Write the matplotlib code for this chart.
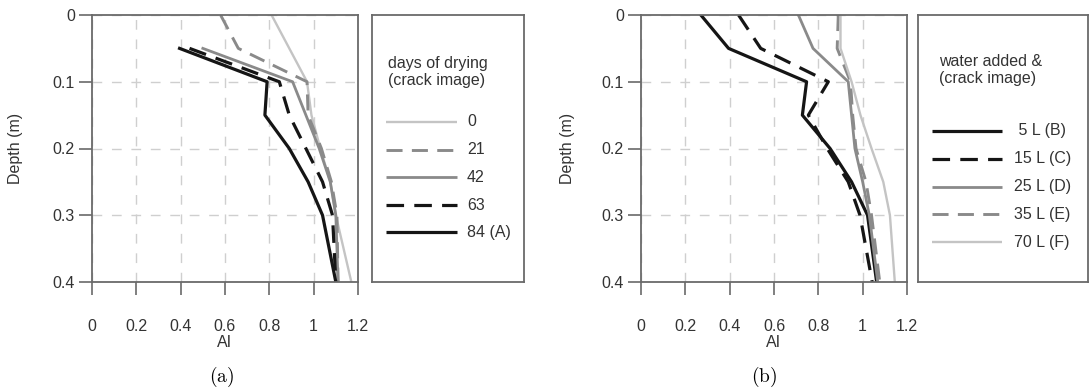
import numpy as np
import matplotlib
matplotlib.use("Agg")
import matplotlib.pyplot as plt

plt.rcParams['font.family'] = ['Liberation Sans', 'DejaVu Sans']
plt.rcParams['mathtext.fontset'] = 'cm'

# depth profiles of AI, panel (a): days of drying
depth_full = [0, 0.05, 0.1, 0.15, 0.2, 0.25, 0.3, 0.4]
depth_crack = [0.05, 0.1, 0.15, 0.2, 0.25, 0.3, 0.4]
depth_d0 = [0, 0.1, 0.15, 0.2, 0.25, 0.3, 0.4]

ai_d0 = [0.81, 0.97, 0.99, 1.03, 1.075, 1.10, 1.17]
ai_d21 = [0.58, 0.66, 0.97, 0.975, 1.035, 1.08, 1.105, 1.11]
ai_d42 = [0.50, 0.905, 0.965, 1.025, 1.075, 1.10, 1.11]
ai_d63 = [0.44, 0.845, 0.89, 0.965, 1.04, 1.085, 1.10]
ai_d84 = [0.395, 0.79, 0.78, 0.89, 0.975, 1.04, 1.10]

# panel (b): water added
ai_5L = [0.27, 0.395, 0.747, 0.728, 0.853, 0.95, 1.022, 1.063]
ai_15L = [0.44, 0.54, 0.845, 0.755, 0.84, 0.935, 0.988, 1.043]
ai_25L = [0.71, 0.776, 0.935, 0.95, 0.965, 1.0, 1.03, 1.068]
ai_35L = [0.89, 0.885, 0.945, 0.955, 0.97, 1.015, 1.04, 1.077]
ai_70L = [0.90, 0.90, 0.95, 0.99, 1.04, 1.093, 1.123, 1.145]

labels_a = ['0', '21', '42', '63', '84 (A)']
labels_b = [' 5 L (B)', '15 L (C)', '25 L (D)', '35 L (E)', '70 L (F)']
title_a = 'days of drying\n(crack image)'
title_b = 'water added &\n(crack image)'

xticks = [0, 0.2, 0.4, 0.6, 0.8, 1, 1.2]
xticklabels = ['0', '0.2', '0.4', '0.6', '0.8', '1', '1.2']
yticks = [0, 0.1, 0.2, 0.3, 0.4]
yticklabels = ['0', '0.1', '0.2', '0.3', '0.4']

FS = 11.5
TXT = '#333333'
BLACK = '#151515'
MID = '#8a8a8a'
LIGHT = '#c4c4c4'
DASH = (0, (5.5, 3.2))
sty_light = dict(color=LIGHT, lw=1.7, ls='-')
sty_mid_dash = dict(color=MID, lw=2.1, ls=DASH)
sty_mid = dict(color=MID, lw=2.0, ls='-')
sty_blk_dash = dict(color=BLACK, lw=2.3, ls=DASH)
sty_blk = dict(color=BLACK, lw=2.3, ls='-')

W, H = 1090, 392
fig = plt.figure(figsize=(W / 100, H / 100), dpi=100)


def px_axes(x0, y0, x1, y1):
    return fig.add_axes([x0 / W, 1 - y1 / H, (x1 - x0) / W, (y1 - y0) / H])


def setup(ax, ylab_x):
    ax.set_xlim(0, 1.2)
    ax.set_ylim(0.4, 0)
    ax.set_xticks(xticks)
    ax.set_xticklabels(xticklabels)
    ax.set_yticks(yticks)
    ax.set_yticklabels(yticklabels)
    ax.grid(True, color='#cfcfcf', lw=1.0, ls=(0, (7, 7)))
    ax.set_axisbelow(True)
    for s in ax.spines.values():
        s.set_color('#6a6a6a')
        s.set_linewidth(1.3)
    ax.tick_params(direction='out', length=9.4, width=1.2, color='#6a6a6a',
                   labelsize=FS, labelcolor=TXT)
    ax.tick_params(axis='x', pad=17)
    ax.tick_params(axis='y', pad=3)
    ax.set_xlabel('AI', fontsize=FS, color=TXT)
    ax.xaxis.set_label_coords(0.5, -0.228)
    ax.xaxis.label.set_va('center')
    ax.set_ylabel('Depth (m)', fontsize=FS, color=TXT)
    ax.yaxis.set_label_coords(ylab_x, 0.5)
    ax.yaxis.label.set_va('center')


def legend_box(x0, x1, title, labels, styles, title_x, hx0, hx1, lx, ys, title_y):
    lg = px_axes(x0, 15, x1, 282)
    lg.set_xlim(0, x1 - x0)
    lg.set_ylim(267, 0)
    lg.set_xticks([])
    lg.set_yticks([])
    for s in lg.spines.values():
        s.set_color('#6a6a6a')
        s.set_linewidth(1.3)
    lg.text(title_x, title_y, title, fontsize=FS, color=TXT,
            va='center', ha='left', linespacing=1.2)
    for y, lab, st in zip(ys, labels, styles):
        lg.plot([hx0, hx1], [y, y], solid_capstyle='butt', dash_capstyle='butt', **st)
        lg.text(lx, y, lab, fontsize=FS, color=TXT, va='center', ha='left')


# panel (a)
ax1 = px_axes(92, 15, 358, 282)
setup(ax1, -0.289)
ax1.plot(ai_d0, depth_d0, **sty_light)
ax1.plot(ai_d21, depth_full, **sty_mid_dash)
ax1.plot(ai_d42, depth_crack, **sty_mid)
ax1.plot(ai_d63, depth_crack, **sty_blk_dash)
ax1.plot(ai_d84, depth_crack, **sty_blk)
legend_box(372, 524, title_a, labels_a,
           [sty_light, sty_mid_dash, sty_mid, sty_blk_dash, sty_blk],
           title_x=16, hx0=14, hx1=85, lx=95,
           ys=[107, 135, 162, 190, 217], title_y=57)

# panel (b)
ax2 = px_axes(641, 15, 907, 282)
setup(ax2, -0.278)
ax2.plot(ai_5L, depth_full, **sty_blk)
ax2.plot(ai_15L, depth_full, **sty_blk_dash)
ax2.plot(ai_25L, depth_full, **sty_mid)
ax2.plot(ai_35L, depth_full, **sty_mid_dash)
ax2.plot(ai_70L, depth_full, **sty_light)
legend_box(918, 1088, title_b, labels_b,
           [sty_blk, sty_blk_dash, sty_mid, sty_mid_dash, sty_light],
           title_x=21, hx0=14, hx1=84, lx=96,
           ys=[116, 144, 172, 199, 227], title_y=55)

fig.text(222 / W, 1 - 377 / H, r'$\mathrm{(a)}$', fontsize=14, ha='center', va='center')
fig.text(764 / W, 1 - 377 / H, r'$\mathrm{(b)}$', fontsize=14, ha='center', va='center')

fig.savefig('out.png', dpi=100)
